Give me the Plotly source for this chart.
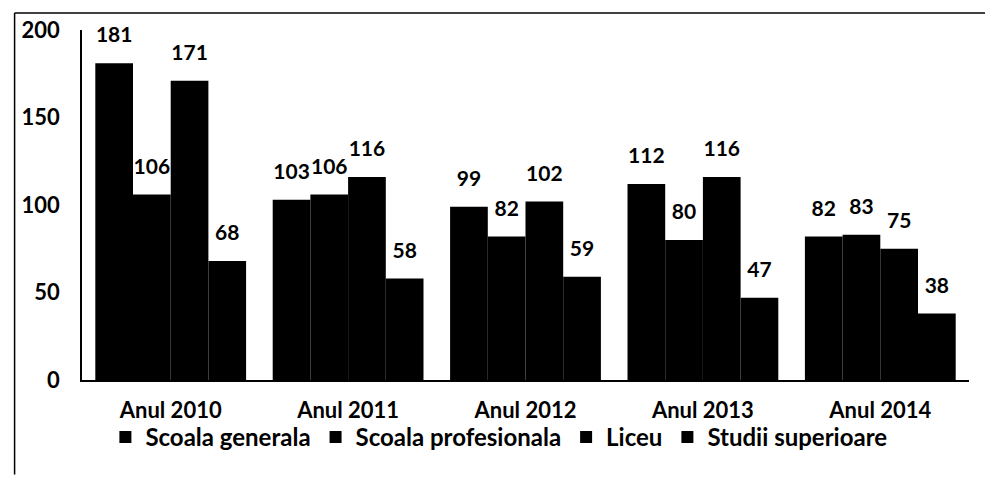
import plotly.graph_objects as go

# ==================================================
# DATA
# ==================================================
years = ["Anul 2010", "Anul 2011", "Anul 2012", "Anul 2013", "Anul 2014"]
scoala_generala = [181, 103, 99, 112, 82]
scoala_profesionala = [106, 106, 82, 80, 83]
liceu = [171, 116, 102, 116, 75]
studii_superioare = [68, 58, 59, 47, 38]

series = [
    ("Scoala generala", scoala_generala),
    ("Scoala profesionala", scoala_profesionala),
    ("Liceu", liceu),
    ("Studii superioare", studii_superioare),
]

FONT = "Lato"
LABEL_PAD = 8  # extra space (data units) between bar top and its value label

fig = go.Figure()

# -------------------
# Bars + value labels
# -------------------
for i, (name, vals) in enumerate(series):
    fig.add_trace(go.Bar(
        x=years,
        y=vals,
        name=name,
        offsetgroup=str(i),
        marker=dict(color="black", line=dict(width=0)),
        hoverinfo="x+y+name",
    ))
    # invisible spacer bar sitting on top, carrying the value label
    fig.add_trace(go.Bar(
        x=years,
        y=[LABEL_PAD] * len(vals),
        base=vals,
        offsetgroup=str(i),
        marker=dict(color="rgba(0,0,0,0)", line=dict(width=0)),
        text=vals,
        textposition="outside",
        cliponaxis=False,
        textfont=dict(family=FONT, size=21, color="black", weight="bold"),
        showlegend=False,
        hoverinfo="skip",
    ))

# -------------------
# Frame around the chart (scanned border, only left and top visible)
# -------------------
fig.add_shape(type="line", xref="paper", yref="paper",
              x0=-0.076, x1=-0.076, y0=-0.27, y1=1.0486,
              line=dict(color="black", width=1.5))
fig.add_shape(type="line", xref="paper", yref="paper",
              x0=-0.076, x1=1.02, y0=1.0486, y1=1.0486,
              line=dict(color="black", width=1.5))

# -------------------
# Layout
# -------------------
fig.update_layout(
    width=985,
    height=477,
    barmode="group",
    bargap=0.15,
    bargroupgap=0,
    margin=dict(l=82, r=16, t=30, b=97),
    plot_bgcolor="white",
    paper_bgcolor="white",
    font=dict(family=FONT, color="black"),
    showlegend=True,
    legend=dict(
        orientation="h",
        x=0.47, xanchor="center",
        y=-0.10, yanchor="top",
        bgcolor="rgba(0,0,0,0)",
        font=dict(family=FONT, size=24, color="black", weight="bold"),
        itemwidth=30,
        traceorder="normal",
    ),
    xaxis=dict(
        showline=True, linecolor="black", linewidth=1.5,
        showgrid=False, ticks="",
        ticklabelstandoff=10,
        tickfont=dict(family=FONT, size=22, color="black", weight="bold"),
    ),
    yaxis=dict(
        range=[0, 200],
        tickvals=[0, 50, 100, 150, 200],
        showline=True, linecolor="black", linewidth=1.5,
        showgrid=False, zeroline=False, ticks="",
        ticklabelstandoff=16,
        tickfont=dict(family=FONT, size=22, color="black", weight="bold"),
    ),
)

fig.write_html("out.html", config={"displayModeBar": False},
               post_script="document.body.style.margin='0';")
